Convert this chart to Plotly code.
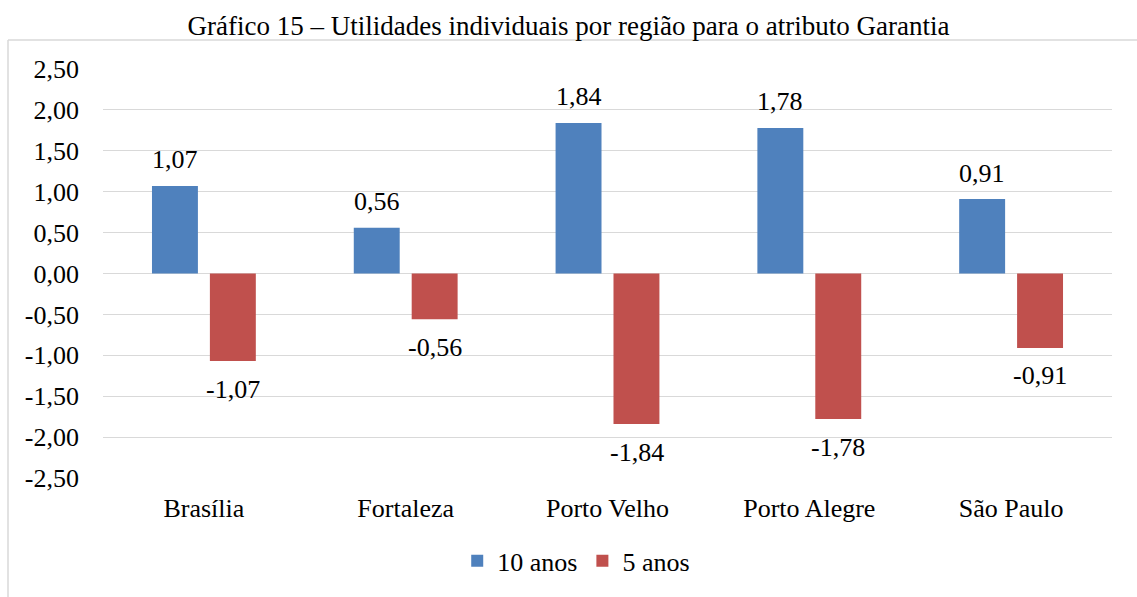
import plotly.graph_objects as go

categories = ["Brasília", "Fortaleza", "Porto Velho", "Porto Alegre", "São Paulo"]
series_names = ["10 anos", "5 anos"]
values_10 = [1.07, 0.56, 1.84, 1.78, 0.91]
values_5 = [-1.07, -0.56, -1.84, -1.78, -0.91]
tick_vals = [2.5, 2.0, 1.5, 1.0, 0.5, 0.0, -0.5, -1.0, -1.5, -2.0, -2.5]
colors = ["#4F81BD", "#C0504D"]

FONT = "Liberation Serif"


def fmt(v):
    return f"{v:.2f}".replace(".", ",")


fig = go.Figure()
for name, vals, col in zip(series_names, [values_10, values_5], colors):
    fig.add_trace(go.Bar(x=categories, y=vals, name=name, marker=dict(color=col, line=dict(width=0))))

# data labels
for vals, shift_x in [(values_10, -29), (values_5, 29)]:
    for c, v in zip(categories, vals):
        fig.add_annotation(
            x=c, y=v, xref="x", yref="y", text=fmt(v),
            showarrow=False, xshift=shift_x, yshift=26 if v >= 0 else -28,
            yanchor="middle", font=dict(family=FONT, size=26, color="#000000"),
        )

fig.update_layout(
    width=1137, height=597,
    paper_bgcolor="white", plot_bgcolor="white",
    margin=dict(l=103, r=25, t=69, b=119, autoexpand=False),
    barmode="group", bargap=0.426, bargroupgap=0.207,
    font=dict(family=FONT, size=26, color="#000000"),
    title=dict(text="Gráfico 15 – Utilidades individuais por região para o atributo Garantia",
               x=0.5, xanchor="center", y=1 - 26 / 597, yanchor="middle",
               font=dict(family=FONT, size=27, color="#000000")),
    showlegend=True,
    legend=dict(orientation="h", x=0.469, xanchor="center", y=-0.145, yanchor="top",
                font=dict(family=FONT, size=26, color="#000000"), itemwidth=30),
    yaxis=dict(range=[-2.5, 2.5], tickvals=tick_vals, ticktext=[fmt(v) for v in tick_vals],
               showgrid=True, gridcolor="#D9D9D9", gridwidth=1.3, zeroline=False,
               showline=False, ticks="", ticklabelstandoff=23, automargin=False,
               tickfont=dict(family=FONT, size=26, color="#000000")),
    xaxis=dict(showgrid=False, showline=False, ticks="", automargin=False,
               ticklabelstandoff=12,
               tickfont=dict(family=FONT, size=26, color="#000000")),
    shapes=[
        dict(type="line", xref="paper", yref="paper", x0=-95/1009, x1=1.1, y0=(597-40-119)/409, y1=(597-40-119)/409,
             line=dict(color="#D9D9D9", width=1.5)),
        dict(type="line", xref="paper", yref="paper", x0=-95/1009, x1=-95/1009, y0=(597-40-119)/409, y1=-0.5,
             line=dict(color="#D9D9D9", width=1.5)),
    ],
)

fig.write_html("out.html", config={"displayModeBar": False},
               post_script="document.body.style.margin='0';document.body.style.padding='0';")
